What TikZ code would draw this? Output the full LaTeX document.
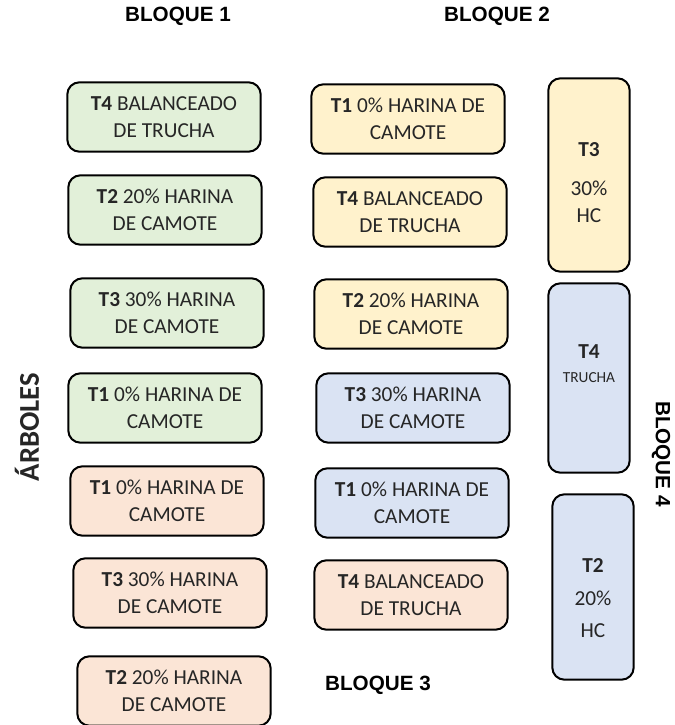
\documentclass[tikz,border=0pt]{standalone}
\usepackage{fontspec}
\setmainfont{Carlito}
\newfontfamily\arialfont{Liberation Sans}
\usepackage{xcolor}
\definecolor{verdeT}{HTML}{E2F0D9}
\definecolor{amarilloT}{HTML}{FFF2CC}
\definecolor{azulT}{HTML}{DAE3F3}
\definecolor{salmonT}{HTML}{FBE5D6}

\begin{document}
\begin{tikzpicture}[x=0.75pt,y=-0.75pt]
    \pgfmathsetmacro{\ancho}{145}
    \pgfmathsetmacro{\alto}{52}
    \tikzset{
        parcela/.style={draw=black,line width=1.5pt,rounded corners=9pt,
            minimum width=\ancho pt,minimum height=\alto pt,inner sep=0pt,
            align=center,text=black!85,font=\fontsize{16}{20}\selectfont},
        columna/.style={parcela,minimum width=61pt},% parcelas largas del bloque 4
        bloque/.style={font=\arialfont\bfseries\fontsize{15.5}{18}\selectfont},
        eje/.style={font=\bfseries\fontsize{21.5}{24}\selectfont,text=black!85}
    }
    % #1 nombre, #2 centro, #3 color, #4 tratamiento, #5 y #6 lineas
    \newcommand\Parcela[6]{
        \node[parcela,fill=#3] (#1) at (#2) {\textbf{#4} #5\\#6};
    }
    \useasboundingbox (0,0) rectangle (675,725);
    % titulos
    \node[bloque] (b1) at (178,16) {BLOQUE 1};
    \node[bloque] (b2) at (497,16) {BLOQUE 2};
    \node[bloque] (b3) at (378,685) {BLOQUE 3};
    \node[bloque,rotate=-90] (b4) at (661,454) {BLOQUE 4};
    \node[eje,rotate=90] (arb) at (27,427) {ÁRBOLES};
    % primera columna
    \Parcela{p11}{164,117}{verdeT}{T4}{BALANCEADO}{DE TRUCHA}
    \Parcela{p12}{165,210}{verdeT}{T2}{20\% HARINA}{DE CAMOTE}
    \Parcela{p13}{167,313}{verdeT}{T3}{30\% HARINA}{DE CAMOTE}
    \Parcela{p14}{165,408}{verdeT}{T1}{0\% HARINA DE}{CAMOTE}
    \Parcela{p15}{167,501}{salmonT}{T1}{0\% HARINA DE}{CAMOTE}
    \Parcela{p16}{170,593}{salmonT}{T3}{30\% HARINA}{DE CAMOTE}
    \Parcela{p17}{174,691}{salmonT}{T2}{20\% HARINA}{DE CAMOTE}
    % segunda columna
    \Parcela{p21}{408,119}{amarilloT}{T1}{0\% HARINA DE}{CAMOTE}
    \Parcela{p22}{410,212}{amarilloT}{T4}{BALANCEADO}{DE TRUCHA}
    \Parcela{p23}{411,314}{amarilloT}{T2}{20\% HARINA}{DE CAMOTE}
    \Parcela{p24}{413,408}{azulT}{T3}{30\% HARINA}{DE CAMOTE}
    \Parcela{p25}{412,503}{azulT}{T1}{0\% HARINA DE}{CAMOTE}
    \Parcela{p26}{411,595}{salmonT}{T4}{BALANCEADO}{DE TRUCHA}
    % tercera columna (el \mbox{} vacio corre el texto arriba o abajo)
    \node[columna,fill=amarilloT,minimum height=145pt] (p31) at (589,175)
        {\mbox{}\\[2pt]\textbf{T3}\\[9pt]30\%\\HC};
    \node[columna,fill=azulT,minimum height=142pt] (p32) at (589,378)
        {\textbf{T4}\\[-2pt]{\fontsize{11.5}{14}\selectfont TRUCHA}\\[1pt]\mbox{}};
    \node[columna,fill=azulT,minimum height=139pt] (p33) at (593,587)
        {\mbox{}\\[7pt]\textbf{T2}\\[5pt]20\%\\[4pt]HC};
\end{tikzpicture}
\end{document}
